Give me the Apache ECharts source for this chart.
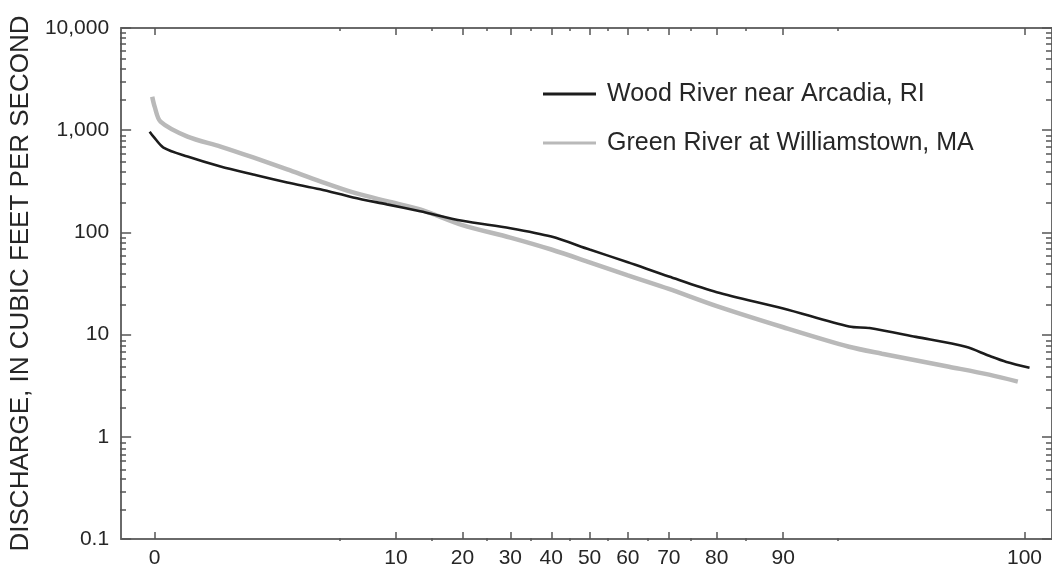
<!DOCTYPE html>
<html>
<head>
<meta charset="utf-8">
<script src="https://cdn.jsdelivr.net/npm/echarts@6/dist/echarts.min.js"></script>
<style>
  html, body { margin: 0; padding: 0; background: #ffffff; }
  #chart { width: 1052px; height: 569px; }
</style>
</head>
<body>
<div id="chart"></div>
<script>
// Flow-duration curves: percent of time a discharge was equalled or exceeded
const woodName = 'Wood River near Arcadia, RI';
const woodPct = [0.18, 0.195, 0.24, 0.39, 0.73, 1.3, 2.27, 3.73, 5.88, 9.0, 13.1, 20, 30, 40, 50, 60, 70, 80, 90, 95.7, 96.8, 98.46, 99.36, 99.59, 99.71, 99.82];
const woodCfs = [968, 866, 677, 553, 442, 369, 308, 264, 220, 188, 161, 130, 110, 91, 68, 51, 37, 26, 18, 12, 11.6, 9.5, 7.6, 6.2, 5.4, 4.74];

const greenName = 'Green River at Williamstown, MA';
const greenPct = [0.19, 0.2, 0.226, 0.39, 0.73, 1.3, 2.27, 3.73, 5.88, 9.0, 13.1, 20, 30, 40, 50, 60, 70, 80, 90, 95.7, 97.35, 99.13, 99.59, 99.77];
const greenCfs = [2126, 1700, 1213, 866, 692, 541, 413, 316, 246, 202, 168, 118, 89, 68, 51, 38, 28, 19, 11.8, 7.6, 6.5, 4.85, 4.06, 3.47];

// Probability-axis tick labels (percent); the end labels sit at 0.2 and 99.8 percent
const xTickLabels = [0, 10, 20, 30, 40, 50, 60, 70, 80, 90, 100];
const xMinorPct = [5, 15, 25, 35, 45, 55, 65, 75, 85, 95];
const END_PCT = 0.2;

// Discharge decades on the log axis
const yDecades = [0.1, 1, 10, 100, 1000, 10000];

// Inverse standard normal CDF (Acklam's rational approximation)
function probit(p) {
  const a = [-3.969683028665376e+01, 2.209460984245205e+02, -2.759285104469687e+02, 1.383577518672690e+02, -3.066479806614716e+01, 2.506628277459239e+00];
  const b = [-5.447609879822406e+01, 1.615858368580409e+02, -1.556989798598866e+02, 6.680131188771972e+01, -1.328068155288572e+01];
  const c = [-7.784894002430293e-03, -3.223964580411365e-01, -2.400758277161838e+00, -2.549732539343734e+00, 4.374664141464968e+00, 2.938163982698783e+00];
  const d = [7.784695709041462e-03, 3.224671290700398e-01, 2.445134137142996e+00, 3.754408661907416e+00];
  const pl = 0.02425, ph = 1 - pl;
  let q, r;
  if (p < pl) {
    q = Math.sqrt(-2 * Math.log(p));
    return (((((c[0] * q + c[1]) * q + c[2]) * q + c[3]) * q + c[4]) * q + c[5]) / ((((d[0] * q + d[1]) * q + d[2]) * q + d[3]) * q + 1);
  }
  if (p <= ph) {
    q = p - 0.5; r = q * q;
    return (((((a[0] * r + a[1]) * r + a[2]) * r + a[3]) * r + a[4]) * r + a[5]) * q / (((((b[0] * r + b[1]) * r + b[2]) * r + b[3]) * r + b[4]) * r + 1);
  }
  q = Math.sqrt(-2 * Math.log(1 - p));
  return -(((((c[0] * q + c[1]) * q + c[2]) * q + c[3]) * q + c[4]) * q + c[5]) / ((((d[0] * q + d[1]) * q + d[2]) * q + d[3]) * q + 1);
}
const pctToZ = pct => probit(pct / 100);
const labelToZ = lab => pctToZ(Math.min(100 - END_PCT, Math.max(END_PCT, lab)));

const majorZ = xTickLabels.map(labelToZ);
const minorZ = xMinorPct.map(pctToZ);
const yMinor = [];
yDecades.slice(0, -1).forEach(dec => { for (let k = 2; k <= 9; k++) yMinor.push(+(dec * k).toPrecision(3)); });

const xFormatter = v => {
  let best = 0;
  majorZ.forEach((z, i) => { if (Math.abs(z - v) < Math.abs(majorZ[best] - v)) best = i; });
  return String(xTickLabels[best]);
};
const yFormatter = v => v >= 1000 ? Math.round(v).toLocaleString('en-US') : String(+v.toPrecision(3));

const FONT = 'Liberation Sans';
const TEXT = '#262626';
const FRAME = '#6a6a6a';
const X_MIN = -3.1, X_MAX = 3.06;

function xAxisDef(grid, pos, ticks, len, showLine, opts) {
  return Object.assign({
    type: 'value', gridIndex: grid, position: pos, min: X_MIN, max: X_MAX,
    axisLine: { show: showLine, onZero: false, lineStyle: { color: FRAME, width: 2 } },
    axisTick: { show: true, inside: true, length: len, customValues: ticks, lineStyle: { color: '#555', width: 1.5 } },
    axisLabel: { show: false },
    splitLine: { show: false }
  }, opts || {});
}
function yAxisDef(grid, pos, ticks, len, showLine, opts) {
  return Object.assign({
    type: 'log', logBase: 10, gridIndex: grid, position: pos, min: 0.1, max: 10000,
    axisLine: { show: showLine, onZero: false, lineStyle: { color: FRAME, width: 2 } },
    axisTick: { show: true, inside: true, length: len, customValues: ticks, lineStyle: { color: '#555', width: 1.5 } },
    axisLabel: { show: false },
    splitLine: { show: false }
  }, opts || {});
}

const gridBox = { left: 120, right: -1, top: 28, bottom: 28 };

const chart = echarts.init(document.getElementById('chart'), null, { renderer: 'canvas' });
chart.setOption({
  backgroundColor: '#ffffff',
  animation: false,
  textStyle: { fontFamily: FONT },
  grid: [Object.assign({}, gridBox), Object.assign({}, gridBox)],
  legend: {
    orient: 'vertical', left: 538, top: 74,
    itemWidth: 53, itemHeight: 3, itemGap: 19, icon: 'rect',
    textStyle: { fontFamily: FONT, fontSize: 25, color: TEXT, lineHeight: 30, padding: [0, 0, 0, 6] },
    data: [
      { name: woodName, itemStyle: { color: '#1c1c1c' } },
      { name: greenName, itemStyle: { color: '#b9b9b9' } }
    ]
  },
  xAxis: [
    xAxisDef(0, 'bottom', majorZ, 7, true, {
      axisLabel: { show: true, customValues: majorZ, formatter: xFormatter, fontSize: 21, margin: 9, color: TEXT, fontFamily: FONT }
    }),
    xAxisDef(0, 'top', majorZ, 7, true),
    xAxisDef(1, 'bottom', minorZ, 3, false),
    xAxisDef(1, 'top', minorZ, 3, false)
  ],
  yAxis: [
    yAxisDef(0, 'left', yDecades, 10, true, {
      axisLabel: { show: true, customValues: yDecades, formatter: yFormatter, fontSize: 21, margin: 12, color: TEXT, fontFamily: FONT },
      name: 'DISCHARGE, IN CUBIC FEET PER SECOND', nameLocation: 'middle', nameGap: 80,
      nameTextStyle: { fontSize: 26, color: TEXT, fontFamily: FONT }
    }),
    yAxisDef(0, 'right', yDecades, 10, true),
    yAxisDef(1, 'left', yMinor, 6, false),
    yAxisDef(1, 'right', yMinor, 6, false)
  ],
  series: [
    {
      name: woodName, type: 'line', xAxisIndex: 0, yAxisIndex: 0,
      data: woodPct.map((p, i) => [pctToZ(p), woodCfs[i]]),
      showSymbol: false, smooth: 0.3, z: 3,
      lineStyle: { color: '#1c1c1c', width: 2.6 }, itemStyle: { color: '#1c1c1c' }
    },
    {
      name: greenName, type: 'line', xAxisIndex: 0, yAxisIndex: 0,
      data: greenPct.map((p, i) => [pctToZ(p), greenCfs[i]]),
      showSymbol: false, smooth: 0.3, z: 2,
      lineStyle: { color: '#b9b9b9', width: 4.5 }, itemStyle: { color: '#b9b9b9' }
    }
  ]
});
</script>
</body>
</html>
